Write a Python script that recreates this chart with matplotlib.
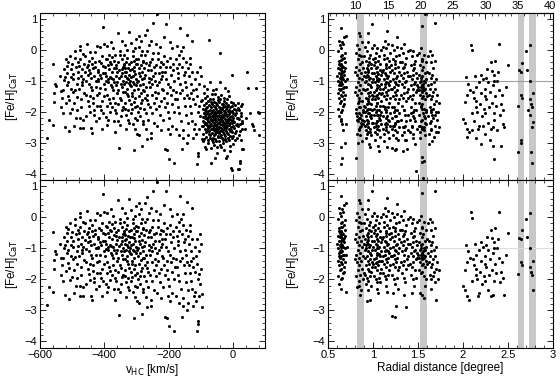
import numpy as np
import matplotlib
matplotlib.use('Agg')
import matplotlib.pyplot as plt
from matplotlib.ticker import MultipleLocator, FormatStrFormatter

plt.rcParams['font.family'] = ['Liberation Sans', 'DejaVu Sans']
plt.rcParams['font.size'] = 8
plt.rcParams['mathtext.default'] = 'regular'

# (v_HC [km/s], [Fe/H]_CaT) - broad population
vhc_halo = [
    (-577, -2.84), (-572, -2.25), (-558, -2.41), (-560, -0.47), (-555, -1.39), (-555, -1.68), (-552, -1.10),
    (-550, -1.18), (-534, -1.85), (-529, -1.30), (-522, -2.49), (-520, -1.72), (-537, -0.85), (-526, -0.62),
    (-531, -1.55), (-524, -0.98), (-528, -2.05), (-534, -1.32), (-522, -0.89),
    (-518, -0.30), (-508, -0.19), (-501, -0.46), (-515, -0.75), (-512, -1.05), (-506, -2.03), (-511, -2.62),
    (-503, -1.25), (-517, -0.51), (-505, -0.88), (-514, -1.48), (-509, -1.62), (-502, -0.62), (-516, -1.15),
    (-500, -1.92), (-513, -0.38),
    (-496, -0.78), (-492, -0.25), (-488, -0.55), (-485, -1.10), (-482, -0.92), (-498, -1.35), (-494, -1.70),
    (-489, -2.20), (-483, -0.40), (-490, -0.05), (-486, -1.52), (-481, -0.70), (-497, -0.95), (-484, -1.95),
    (-491, -1.28), (-493, -2.45),
    (-480, -0.51), (-475, 0.13), (-477, -0.00), (-465, -0.14), (-477, -2.52), (-465, -2.52), (-467, -2.25),
    (-475, -2.20), (-470, -0.62), (-472, -0.85), (-468, -1.05), (-462, -0.45), (-478, -1.25), (-473, -1.60),
    (-463, -1.38), (-466, -0.95), (-471, -1.85), (-461, -0.72), (-476, -0.30), (-469, -1.15),
    (-444, -0.08), (-444, -2.01), (-447, -1.82), (-440, -2.52), (-439, -2.68), (-455, -0.55), (-452, -0.80),
    (-458, -1.02), (-449, -0.35), (-446, -0.65), (-442, -1.20), (-457, -1.45), (-450, -1.65), (-453, 0.20),
    (-441, -0.90), (-459, -0.20), (-448, -1.10), (-443, -1.50), (-456, -2.15), (-451, -0.48), (-445, -0.75),
    (-430, -0.08), (-423, 0.13), (-431, -1.95), (-436, -0.60), (-433, -0.85), (-428, -0.40), (-425, -1.00),
    (-421, -0.70), (-438, -1.30), (-434, -1.55), (-427, -1.20), (-422, -1.80), (-437, -0.25), (-426, -2.30),
    (-429, -0.55), (-424, -1.45), (-432, -2.10), (-420, -0.95), (-435, -1.72), (-439, -0.45),
    (-412, 0.08), (-402, 0.18), (-404, 0.75), (-407, -2.54), (-418, -0.65), (-415, -0.35), (-410, -0.90),
    (-405, -0.52), (-401, -1.10), (-417, -1.40), (-413, -1.22), (-408, -1.65), (-403, -0.75), (-419, -1.00),
    (-411, -1.95), (-406, -0.20), (-414, -1.80), (-409, -0.42), (-400, -1.50), (-416, -2.20), (-404, -2.05),
    (-412, -0.80),
    (-392, 0.13), (-392, -2.41), (-396, -2.16), (-381, -2.01), (-383, -1.73), (-398, -0.55), (-395, -0.85),
    (-390, -0.30), (-387, -1.05), (-385, -0.62), (-382, -0.40), (-397, -1.25), (-393, -1.45), (-389, -0.95),
    (-386, -1.60), (-384, -0.15), (-399, -0.75), (-391, -1.80), (-388, -0.50), (-380, -1.15), (-394, -1.02),
    (-387, -2.25), (-383, -0.88), (-396, -0.28), (-378, 0.25),
    (-371, -2.30), (-366, -2.66), (-378, -0.45), (-375, -0.70), (-372, -0.95), (-369, -0.35), (-365, -0.60),
    (-362, -1.15), (-376, -1.20), (-373, -1.55), (-368, -0.15), (-364, -0.85), (-361, -1.40), (-377, -1.85),
    (-370, -1.05), (-367, -1.70), (-363, -0.48), (-379, -0.92), (-374, 0.05), (-360, -0.72), (-366, -1.95),
    (-372, -1.30), (-362, -2.05), (-369, -0.58), (-376, -0.22),
    (-358, 0.55), (-354, -3.16), (-350, -2.41), (-344, -1.93), (-357, -0.40), (-353, -0.65), (-349, -0.85),
    (-346, -0.30), (-342, -0.55), (-359, -1.05), (-356, -1.30), (-352, -1.55), (-348, -1.10), (-345, -0.75),
    (-341, -1.35), (-358, -1.75), (-351, -0.18), (-347, -2.15), (-343, -1.00), (-354, -0.92), (-340, -0.45),
    (-356, -2.30), (-349, -1.62), (-344, -0.62), (-352, -0.05), (-346, -1.20), (-342, -1.85), (-345, 0.30),
    (-324, 0.59), (-331, -2.57), (-327, -2.25), (-338, -0.50), (-335, -0.72), (-332, -0.38), (-329, -0.90),
    (-326, -0.60), (-322, -0.45), (-339, -1.10), (-336, -1.35), (-333, -1.05), (-330, -1.25), (-327, -1.50),
    (-323, -0.80), (-321, -1.15), (-337, -1.70), (-334, -1.90), (-328, -0.25), (-325, -1.95), (-320, -0.65),
    (-338, -0.15), (-332, -2.10), (-329, -0.02), (-326, -0.95), (-323, -1.62), (-335, -0.85), (-330, -1.42),
    (-322, -2.35), (-337, -0.58), (-333, -0.70), (-324, -1.08), (-335, 0.15),
    (-306, -3.24), (-303, -2.57), (-318, -0.40), (-315, -0.62), (-312, -0.85), (-309, -0.35), (-306, -0.55),
    (-303, -0.78), (-301, -0.45), (-319, -1.00), (-316, -1.18), (-313, -1.40), (-310, -1.05), (-307, -1.30),
    (-304, -1.55), (-302, -0.95), (-317, -1.75), (-314, -1.92), (-311, -0.20), (-305, -1.85), (-300, -1.15),
    (-318, -2.05), (-312, -0.05), (-308, -0.68), (-304, -2.20), (-315, -1.50), (-309, -1.68), (-302, -0.28),
    (-316, -0.88), (-310, -2.40), (-306, -1.10), (-318, 0.22), (-300, 0.35), (-305, 0.05),
    (-297, -2.70), (-291, -2.76), (-284, -3.10), (-298, -0.45), (-295, -0.30), (-292, -0.60), (-289, -0.85),
    (-286, -0.50), (-283, -0.72), (-281, -0.38), (-299, -1.05), (-296, -1.25), (-293, -1.50), (-290, -1.15),
    (-287, -1.38), (-284, -1.62), (-282, -0.95), (-298, -1.80), (-294, -2.00), (-291, 0.10), (-288, -1.88),
    (-285, -0.18), (-280, -1.30), (-297, -2.25), (-293, -0.75), (-289, -2.15), (-286, -1.72), (-283, -0.05),
    (-295, -1.00), (-281, -2.40), (-291, 0.45), (-285, 0.28),
    (-269, -2.57), (-266, -2.89), (-266, 0.65), (-278, -0.35), (-275, -0.58), (-272, 0.47), (-272, -0.80),
    (-269, -0.42), (-265, -0.65), (-262, -0.90), (-279, -1.10), (-276, -1.32), (-273, -1.55), (-270, -1.20),
    (-267, -1.45), (-264, -1.75), (-261, -1.05), (-277, -1.90), (-274, -0.15), (-271, -2.05), (-268, -0.05),
    (-263, -2.25), (-260, -0.48), (-275, -0.92), (-266, -1.62), (-278, -2.30), (-262, 0.15),
    (-256, -2.68), (-255, -2.85), (-249, 0.86), (-255, 0.30), (-258, -0.40), (-254, -0.65), (-251, -0.30),
    (-247, -0.85), (-244, -0.55), (-241, -1.00), (-257, -1.20), (-253, -1.45), (-250, -1.10), (-246, -1.70),
    (-243, -1.35), (-259, -1.85), (-252, -2.05), (-248, -0.10), (-245, -2.35), (-242, -0.75), (-256, -0.95),
    (-240, -1.55), (-240, 0.20),
    (-235, 1.15), (-238, -0.50), (-234, -0.30), (-231, -0.75), (-227, -0.55), (-223, -0.95), (-236, -1.15),
    (-232, -1.40), (-229, -1.05), (-225, -1.65), (-221, -1.25), (-239, -1.90), (-233, -0.10), (-228, -2.10),
    (-224, -0.40), (-237, -2.45), (-230, -1.80), (-222, -2.60), (-226, 0.10), (-220, -0.70),
    (-207, 0.84), (-206, -3.24), (-212, -3.20), (-218, -0.45), (-214, -0.20), (-211, -0.70), (-208, -0.95),
    (-205, -0.35), (-202, -1.10), (-217, -1.30), (-213, -1.55), (-210, -1.85), (-204, -1.40), (-201, -2.00),
    (-216, -2.25), (-209, -0.55), (-203, -2.55), (-219, -0.85), (-206, -1.70), (-215, 0.40),
    (-198, -3.51), (-183, -3.66), (-197, -0.25), (-194, -0.55), (-191, -0.80), (-188, 0.05), (-185, -0.45),
    (-182, -1.00), (-196, -1.20), (-192, -1.45), (-189, -1.75), (-186, -1.30), (-184, -2.00), (-199, -2.20),
    (-190, -2.45), (-187, -0.65), (-181, -1.60), (-195, -2.70), (-195, 0.25),
    (-165, 0.69), (-159, -3.21), (-178, -0.30), (-175, -0.60), (-172, -0.90), (-169, -0.15), (-166, -0.45),
    (-163, -1.10), (-177, -1.35), (-174, -1.60), (-170, -1.85), (-167, -2.05), (-164, -1.40), (-161, -2.30),
    (-176, -2.55), (-171, -0.75), (-162, -0.05), (-168, -2.75), (-175, 0.12),
    (-143, -3.00), (-142, 0.48), (-158, -0.55), (-155, -0.25), (-152, -0.80), (-149, -1.05), (-146, -0.40),
    (-157, -1.30), (-153, -1.55), (-150, -1.80), (-147, -2.10), (-144, -1.45), (-141, -2.35), (-156, -2.60),
    (-148, -0.70), (-154, -2.85), (-145, -1.20), (-155, 0.10),
    (-128, 0.30), (-138, -0.60), (-135, -0.85), (-132, -0.45), (-129, -1.10), (-126, -0.70), (-123, -1.30),
    (-137, -1.55), (-134, -1.80), (-131, -2.05), (-127, -2.30), (-124, -1.60), (-121, -2.55), (-139, -2.75),
    (-133, -0.25), (-125, -2.85), (-130, -1.40),
    (-113, -0.70), (-106, -1.82), (-97, -2.89), (-97, -2.46), (-109, -3.43), (-112, -3.67), (-107, -3.34),
    (-118, -0.95), (-115, -1.25), (-110, -1.50), (-104, -1.10), (-101, -2.15), (-117, -2.40), (-108, -2.00),
    (-99, -1.65), (-114, -2.70), (-103, -0.55), (-119, -1.75), (-105, -2.55), (-100, -0.85),
]

# (v_HC, [Fe/H]_CaT) - clump near v_HC ~ 0 (top-left panel only)
vhc_fg = [
    (-95, -1.62), (-94, -2.18), (-93, -2.47), (-93, -1.91), (-92, -2.73), (-91, -2.05), (-91, -1.38),
    (-90, -2.32), (-89, -2.88), (-89, -1.77), (-88, -2.21), (-88, -2.56), (-87, -1.95), (-87, -3.12),
    (-86, -2.40), (-86, -1.55), (-85, -2.66), (-85, -2.02), (-94, -2.95), (-90, -1.18), (-92, -2.28),
    (-86, -2.12),
    (-84, -2.36), (-84, -1.72), (-83, -2.58), (-83, -2.07), (-82, -1.88), (-82, -2.81), (-81, -2.24),
    (-81, -1.49), (-80, -2.63), (-80, -2.01), (-79, -2.42), (-79, -1.83), (-78, -3.02), (-78, -2.17),
    (-77, -1.64), (-77, -2.52), (-76, -2.29), (-76, -1.97), (-75, -2.71), (-75, -2.12), (-80, -1.26),
    (-83, -3.21), (-78, -2.48), (-76, -2.90),
    (-74, -2.08), (-74, -2.61), (-73, -1.79), (-73, -2.33), (-72, -2.86), (-72, -1.57), (-71, -2.19),
    (-71, -2.47), (-70, -1.93), (-70, -2.74), (-69, -2.26), (-69, -3.64), (-69, -1.68), (-68, -2.54),
    (-68, -2.03), (-67, -3.18), (-67, -2.38), (-67, -1.85), (-66, -2.92), (-66, -2.14), (-66, -1.42),
    (-65, -2.57), (-65, -2.00), (-73, 0.33), (-71, -1.05), (-70, -2.42),
    (-64, -2.31), (-64, -1.76), (-64, -2.69), (-63, -2.12), (-63, -2.84), (-62, -1.94), (-62, -2.45),
    (-62, -1.58), (-61, -2.22), (-61, -2.97), (-60, -2.06), (-60, -2.59), (-60, -1.81), (-59, -2.35),
    (-59, -3.08), (-58, -2.17), (-58, -1.67), (-58, -2.76), (-57, -2.41), (-57, -3.48), (-57, -1.99),
    (-56, -2.27), (-56, -2.63), (-56, -1.44), (-55, -2.11), (-55, -2.88), (-63, -1.31), (-59, -2.52),
    (-54, -2.19), (-54, -2.72), (-54, -1.86), (-53, -2.43), (-53, -2.04), (-52, -1.71), (-52, -2.57),
    (-52, -2.95), (-51, -2.28), (-51, -1.92), (-50, -2.66), (-50, -2.13), (-50, -3.15), (-49, -1.79),
    (-49, -2.38), (-48, -3.34), (-48, -2.49), (-48, -2.01), (-47, -1.63), (-47, -2.82), (-46, -2.24),
    (-46, -2.55), (-46, -1.97), (-45, -2.36), (-45, -1.52), (-45, -2.78), (-51, -1.27), (-49, -2.60),
    (-44, -2.15), (-44, -2.67), (-44, -1.83), (-43, -2.34), (-43, -2.93), (-42, -2.05), (-42, -2.48),
    (-42, -1.69), (-41, -2.26), (-41, -0.10), (-41, -2.81), (-40, -1.95), (-40, -2.39), (-40, -3.06),
    (-39, -2.12), (-39, -1.58), (-39, -2.61), (-38, -2.31), (-38, -1.88), (-37, -2.74), (-37, -2.20),
    (-37, -1.47), (-36, -2.53), (-36, -3.15), (-36, -2.02), (-35, -2.44), (-35, -1.76), (-39, -1.05),
    (-34, -2.27), (-34, -1.91), (-34, -2.84), (-33, -2.09), (-33, -2.58), (-32, -1.74), (-32, -2.40),
    (-32, -3.01), (-31, -2.18), (-31, -2.66), (-30, -1.86), (-30, -2.33), (-30, -2.92), (-29, -2.07),
    (-29, -1.55), (-28, -2.49), (-28, -2.15), (-28, -3.22), (-27, -1.97), (-27, -2.71), (-26, -2.36),
    (-26, -1.66), (-26, -2.55), (-25, -2.11), (-25, -1.23), (-25, -2.87),
    (-24, -2.23), (-24, -2.78), (-24, -1.81), (-23, -2.44), (-23, -2.01), (-22, -3.48), (-22, -2.62),
    (-22, -1.92), (-21, -2.29), (-21, -1.71), (-20, -2.52), (-20, -2.08), (-20, -2.95), (-19, -3.42),
    (-19, -2.37), (-19, -1.86), (-18, -2.68), (-18, -2.14), (-17, -1.59), (-17, -2.45), (-16, -2.22),
    (-16, -1.34), (-15, -2.83), (-15, -1.98),
    (-14, -2.31), (-14, -1.77), (-14, -2.72), (-13, -2.06), (-13, -2.54), (-12, -1.49), (-12, -2.24),
    (-12, -2.91), (-11, -2.41), (-11, -1.93), (-10, -2.63), (-10, -2.17), (-9, -3.11), (-9, -1.84),
    (-9, -2.35), (-8, -2.79), (-8, -3.26), (-8, -2.02), (-7, -3.80), (-7, -2.48), (-6, -1.68), (-6, -2.27),
    (-5, -2.58), (-4, -2.13), (-4, -1.82), (-4, -2.84), (-3, -3.89), (-3, -0.82), (-3, -2.37), (-2, -2.66),
    (-2, -1.97), (-1, -2.21), (-1, -3.03), (0, -2.47), (0, -1.71), (1, -2.29), (2, -2.77), (2, -2.05),
    (3, -1.90), (4, -2.52),
    (5, -2.33), (6, -2.68), (7, -2.11), (7, -1.79), (8, -2.92), (9, -2.41), (10, -2.05), (10, -2.63),
    (11, -1.95), (12, -2.38), (13, -2.84), (14, -2.19), (15, -3.83), (15, -1.72),
    (16, -2.47), (17, -1.88), (18, -3.84), (19, -2.24), (21, -3.64), (22, -3.58), (22, -2.61), (24, -2.05),
    (25, -2.90), (17, -2.20), (20, -1.95), (23, -2.38), (26, -2.15), (28, -2.55), (19, -2.75), (25, -1.82),
    (29, -2.30),
    (28, -3.20), (30, -2.35), (33, -3.21), (38, -2.55), (27, -1.75), (41, -2.20), (44, -0.71),
    (48, -1.22), (52, -2.05), (59, -2.40), (62, -2.45), (66, -2.60), (73, -1.22), (79, -2.00), (80, -2.74),
    (81, -2.05),
]

# (radial distance [deg], [Fe/H]_CaT) - stars shown in both right panels
rad_mem = [
    (0.64, 0.70), (0.62, 0.30), (0.66, 0.25), (0.68, 0.40), (0.63, 0.15), (0.65, 0.05), (0.67, 0.18),
    (0.61, -0.05), (0.69, -0.10), (0.64, -0.20), (0.66, -0.30), (0.62, -0.35), (0.68, -0.25), (0.65, -0.45),
    (0.63, -0.50), (0.67, -0.55), (0.61, -0.60), (0.69, -0.40), (0.64, -0.65), (0.66, -0.70), (0.62, -0.75),
    (0.68, -0.80), (0.65, -0.85), (0.63, -0.90), (0.67, -0.95), (0.61, -1.00), (0.69, -0.60), (0.64, -1.05),
    (0.66, -1.10), (0.62, -1.15), (0.68, -1.20), (0.65, -1.25), (0.63, -1.30), (0.67, -1.35), (0.61, -1.40),
    (0.69, -1.00), (0.64, -1.45), (0.66, -1.50), (0.62, -1.55), (0.68, -1.60), (0.65, -1.65), (0.63, -1.70),
    (0.67, -1.80), (0.61, -1.90), (0.66, -1.95), (0.64, -2.00), (0.70, -2.40), (0.62, -0.45), (0.66, -0.52),
    (0.64, -0.78), (0.68, -0.68), (0.65, -1.12), (0.63, -0.62), (0.67, -0.72), (0.65, -0.58), (0.64, -0.95),
    (0.66, -0.88), (0.63, -1.08), (0.67, -1.22), (0.65, -0.32), (0.70, 0.45), (0.69, -1.45), (0.62, -1.25),
    (0.60, -0.85), (0.71, -0.95), (0.68, -1.75), (0.62, -2.15), (0.65, -2.30), (0.70, -1.20), (0.66, -0.15),
    (0.81, -0.10), (0.82, 0.15), (0.84, 0.55), (0.86, 0.45), (0.85, 0.02), (0.83, -0.30), (0.87, -0.20),
    (0.88, 0.25), (0.81, -0.55), (0.84, -0.65), (0.86, -0.45), (0.89, -0.60), (0.82, -0.80), (0.85, -0.90),
    (0.87, -0.75), (0.83, -1.05), (0.88, -0.95), (0.81, -1.20), (0.86, -1.15), (0.84, -1.30), (0.89, -1.25),
    (0.82, -1.45), (0.87, -1.40), (0.85, -1.55), (0.83, -1.70), (0.88, -1.65), (0.81, -1.90), (0.86, -1.85),
    (0.84, -2.05), (0.89, -2.00), (0.82, -2.25), (0.87, -2.35), (0.85, -2.20), (0.80, -1.35), (0.88, -0.40),
    (0.90, -1.80), (0.90, -0.85), (0.84, -0.15), (0.86, -2.50), (0.80, -0.70),
    (0.91, 0.10), (0.93, -0.05), (0.95, 0.25), (0.97, -0.15), (0.99, 0.05), (0.92, -0.35), (0.94, -0.50),
    (0.96, -0.40), (0.98, -0.60), (0.91, -0.70), (0.93, -0.80), (0.95, -0.65), (0.97, -0.90), (0.99, -0.75),
    (0.92, -1.00), (0.94, -1.10), (0.96, -0.95), (0.98, -1.20), (0.91, -1.30), (0.93, -1.25), (0.95, -1.40),
    (0.97, -1.35), (0.99, -1.05), (0.92, -1.55), (0.94, -1.65), (0.96, -1.50), (0.98, -1.75), (0.91, -1.85),
    (0.93, -1.95), (0.95, -2.05), (0.97, -1.90), (0.99, -1.60), (0.92, -2.15), (0.94, -2.35), (0.97, -2.65),
    (0.93, -2.70), (0.96, -0.25), (0.98, -0.45), (0.90, -0.20), (0.95, -0.85), (0.93, -0.58), (0.97, -1.15),
    (0.99, -1.45), (0.91, -1.05), (0.96, -1.72), (0.94, -0.72), (1.00, -0.95), (1.00, -0.30), (0.92, -0.88),
    (0.98, -2.20), (0.99, 0.84), (0.95, 0.55),
    (1.01, 0.15), (1.03, -0.10), (1.05, 0.05), (1.07, -0.20), (1.09, 0.00), (1.02, -0.40), (1.04, -0.55),
    (1.06, -0.35), (1.08, -0.65), (1.01, -0.75), (1.03, -0.85), (1.05, -0.70), (1.07, -0.95), (1.09, -0.80),
    (1.02, -1.05), (1.04, -1.15), (1.06, -1.00), (1.08, -1.25), (1.01, -1.35), (1.03, -1.30), (1.05, -1.45),
    (1.07, -1.40), (1.09, -1.10), (1.02, -1.60), (1.04, -1.70), (1.06, -1.55), (1.08, -1.80), (1.01, -1.90),
    (1.03, -2.00), (1.05, -2.10), (1.07, -1.95), (1.09, -1.65), (1.04, -2.30), (1.06, -2.45), (1.02, -0.25),
    (1.08, -0.45), (1.05, -0.90), (1.03, -0.60), (1.07, -1.18), (1.00, -1.50), (1.10, -0.70), (1.06, -0.78),
    (1.04, -0.98), (1.09, -1.42), (1.01, -0.50), (1.08, -2.10), (1.05, -1.22), (1.03, -1.48),
    (1.11, 0.10), (1.13, 0.30), (1.15, 0.05), (1.17, 0.20), (1.19, -0.10), (1.12, -0.30), (1.14, -0.45),
    (1.16, -0.25), (1.18, -0.55), (1.11, -0.65), (1.13, -0.75), (1.15, -0.60), (1.17, -0.85), (1.19, -0.70),
    (1.12, -0.95), (1.14, -1.05), (1.16, -0.90), (1.18, -1.15), (1.11, -1.25), (1.13, -1.20), (1.15, -1.35),
    (1.17, -1.30), (1.19, -1.00), (1.12, -1.50), (1.14, -1.60), (1.16, -1.45), (1.18, -1.70), (1.11, -1.80),
    (1.13, -1.90), (1.15, -2.00), (1.17, -1.85), (1.19, -1.55), (1.14, -2.20), (1.16, -2.40), (1.12, -0.15),
    (1.18, -0.35), (1.15, -0.80), (1.13, -1.10), (1.17, -1.08), (1.20, -0.50), (1.20, -1.25), (1.10, -1.40),
    (1.16, 0.62), (1.14, -0.50),
    (1.21, 0.15), (1.23, 0.00), (1.27, 0.43), (1.27, 0.10), (1.29, -0.15), (1.22, -0.30), (1.24, -0.45),
    (1.26, -0.20), (1.28, -0.55), (1.21, -0.65), (1.23, -0.75), (1.25, -0.60), (1.27, -0.85), (1.29, -0.70),
    (1.22, -0.95), (1.24, -1.05), (1.26, -0.90), (1.28, -1.15), (1.21, -1.25), (1.23, -1.20), (1.25, -1.35),
    (1.27, -1.30), (1.29, -1.00), (1.22, -1.50), (1.24, -1.60), (1.26, -1.45), (1.28, -1.70), (1.21, -1.85),
    (1.23, -2.00), (1.25, -2.15), (1.27, -1.95), (1.29, -1.60), (1.21, -3.17), (1.24, -3.22), (1.26, -2.85),
    (1.22, -2.45), (1.28, -2.30), (1.24, -0.35), (1.26, -1.10), (1.30, -0.40),
    (1.31, 0.05), (1.33, -0.10), (1.35, 0.20), (1.37, -0.25), (1.39, -0.05), (1.32, -0.40), (1.34, -0.55),
    (1.36, -0.45), (1.38, -0.70), (1.31, -0.80), (1.33, -0.90), (1.35, -0.75), (1.37, -1.00), (1.39, -0.85),
    (1.32, -1.10), (1.34, -1.20), (1.36, -1.05), (1.38, -1.35), (1.31, -1.45), (1.33, -1.55), (1.35, -1.40),
    (1.37, -1.65), (1.39, -1.25), (1.32, -1.80), (1.34, -1.95), (1.36, -2.10), (1.35, -2.50), (1.37, -2.90),
    (1.33, -0.60), (1.39, -1.55),
    (1.41, 0.00), (1.43, -0.20), (1.45, -0.05), (1.47, -0.35), (1.49, -0.15), (1.42, -0.50), (1.44, -0.65),
    (1.46, -0.45), (1.48, -0.75), (1.41, -0.85), (1.43, -0.95), (1.45, -0.80), (1.47, -1.05), (1.49, -0.90),
    (1.42, -1.15), (1.44, -1.25), (1.46, -1.10), (1.48, -1.35), (1.41, -1.50), (1.43, -1.60), (1.45, -1.45),
    (1.47, -1.70), (1.49, -1.30), (1.42, -1.85), (1.44, -2.00), (1.46, -2.20), (1.48, -1.95), (1.43, -2.45),
    (1.46, -0.60), (1.49, -1.15),
    (1.51, -0.10), (1.53, 0.05), (1.55, -0.30), (1.57, -0.15), (1.59, -0.40), (1.52, -0.50), (1.54, -0.65),
    (1.56, -0.55), (1.58, -0.75), (1.51, -0.80), (1.53, -0.90), (1.55, -0.85), (1.57, -1.00), (1.59, -0.95),
    (1.52, -1.05), (1.54, -1.15), (1.56, -1.10), (1.58, -1.25), (1.51, -1.30), (1.53, -1.20), (1.55, -1.35),
    (1.57, -1.30), (1.59, -1.40), (1.52, -1.45), (1.54, -1.55), (1.56, -1.50), (1.58, -1.60), (1.51, -1.70),
    (1.53, -1.80), (1.55, -1.75), (1.57, -1.90), (1.59, -2.00), (1.54, -0.35), (1.55, 0.78), (1.58, -2.20),
    (1.52, -2.45), (1.55, -2.50), (1.57, -2.60), (1.53, -1.00), (1.56, -1.20), (1.58, -1.05), (1.60, -0.70),
    (1.60, -1.50), (1.50, -1.20), (1.54, -1.28),
    (1.61, -0.20), (1.63, -0.05), (1.65, -0.40), (1.67, -0.60), (1.69, -0.35), (1.62, -0.75), (1.64, -0.90),
    (1.66, -0.80), (1.68, -1.05), (1.70, -0.95), (1.61, -1.15), (1.63, -1.25), (1.65, -1.10), (1.67, -1.35),
    (1.69, -1.25), (1.62, -1.45), (1.64, -1.60), (1.66, -1.50), (1.68, -1.75), (1.70, -1.65), (1.63, -1.85),
    (1.65, -2.00), (1.67, -1.90), (1.71, -1.45), (1.72, -2.00), (1.73, -1.70), (1.70, -2.65), (1.64, -2.30),
    (1.66, -0.15), (1.69, -2.10), (1.69, 0.86),
    (2.09, 0.16), (2.10, -0.02), (2.03, -0.88), (2.06, -1.10), (2.08, -1.30), (2.02, -1.69), (2.00, -2.22),
    (2.02, -2.35), (2.05, -2.55), (2.07, -2.65), (2.17, -2.55), (2.31, -2.55), (2.33, -2.50), (2.46, -2.50),
    (2.50, -0.50), (2.35, -0.80), (2.32, -0.68), (2.27, -0.62), (2.31, -0.40), (2.12, -1.55), (2.15, -1.20),
    (2.18, -1.05), (2.20, -1.40), (2.22, -0.95), (2.24, -1.25), (2.26, -1.60), (2.28, -1.05), (2.30, -1.35),
    (2.33, -1.15), (2.36, -1.50), (2.38, -1.00), (2.40, -1.30), (2.42, -1.75), (2.14, -1.85), (2.16, -2.00),
    (2.19, -1.75), (2.21, -2.15), (2.23, -1.90), (2.25, -2.05), (2.29, -1.85), (2.34, -2.05), (2.37, -1.80),
    (2.41, -2.10), (2.44, -1.95), (2.11, -1.35), (2.13, -0.85), (2.20, -0.80), (2.26, -0.90), (2.39, -0.70),
    (2.36, -0.35), (2.04, -1.45), (2.28, -2.35), (2.18, -2.45), (2.24, -1.50), (2.32, -1.70), (2.15, -1.65),
    (2.10, -2.05), (2.48, -1.20), (2.43, -1.45), (2.34, -1.00), (2.40, 0.18),
    (2.62, -0.66), (2.64, -0.70), (2.66, -0.42), (2.70, -0.05), (2.74, 0.15), (2.71, -0.65), (2.61, -1.82),
    (2.65, -1.45), (2.66, -1.55), (2.75, -1.60), (2.76, -1.75), (2.78, -1.40), (2.78, -2.33), (2.77, -1.85),
    (2.74, -1.00),
]

# (radial distance, [Fe/H]_CaT) - stars only in the top-right panel
rad_fg = [
    (0.65, -2.22), (0.66, -2.40), (0.69, -3.02), (0.64, -3.13), (0.66, -3.48), (0.64, -3.70), (0.67, -2.60),
    (0.81, -2.05), (0.83, -2.30), (0.85, -2.55), (0.87, -2.10), (0.89, -2.40), (0.82, -2.70), (0.84, -1.85),
    (0.86, -2.20), (0.88, -2.95), (0.83, -3.00), (0.81, -3.50), (0.86, -2.75), (0.85, -1.65), (0.87, -2.45),
    (0.89, -1.95), (0.82, -2.15), (0.84, -2.60), (0.88, -2.25),
    (0.91, -2.00), (0.93, -2.25), (0.95, -2.50), (0.97, -2.15), (0.99, -2.35), (0.92, -2.60), (0.94, -1.90),
    (0.96, -2.05), (0.98, -2.75), (0.91, -2.45), (0.93, -1.75), (0.95, -2.30), (0.97, -2.55), (0.99, -1.95),
    (0.92, -2.85), (0.94, -2.65), (0.96, -3.05), (0.98, -2.10), (0.90, -2.30), (0.97, -3.15), (0.95, -1.60),
    (0.93, -2.40),
    (1.01, -2.10), (1.03, -2.35), (1.05, -2.55), (1.07, -2.20), (1.09, -2.40), (1.02, -2.65), (1.04, -1.95),
    (1.06, -2.10), (1.08, -2.80), (1.01, -2.50), (1.03, -1.80), (1.05, -2.30), (1.07, -2.60), (1.09, -2.00),
    (1.02, -2.90), (1.04, -2.70), (1.06, -3.10), (1.08, -2.25), (1.00, -2.35), (1.07, -3.25), (1.05, -1.70),
    (1.03, -2.45),
    (1.11, -2.15), (1.13, -2.40), (1.15, -2.60), (1.17, -2.25), (1.19, -2.45), (1.12, -2.70), (1.14, -1.95),
    (1.16, -2.15), (1.18, -2.85), (1.11, -2.55), (1.13, -1.85), (1.15, -2.35), (1.17, -2.65), (1.19, -2.05),
    (1.12, -2.95), (1.16, -3.15), (1.18, -2.30), (1.14, -2.50),
    (1.21, -2.20), (1.23, -2.45), (1.25, -2.60), (1.27, -2.30), (1.29, -2.50), (1.22, -2.75), (1.24, -1.95),
    (1.26, -2.15), (1.28, -2.90), (1.21, -2.55), (1.23, -1.85), (1.25, -2.35), (1.27, -2.65), (1.29, -2.05),
    (1.26, -3.20), (1.24, -2.40),
    (1.31, -2.25), (1.33, -2.50), (1.35, -2.65), (1.37, -2.30), (1.39, -2.10), (1.32, -2.75), (1.34, -1.95),
    (1.36, -2.45), (1.38, -3.20), (1.33, -3.25), (1.36, -2.90), (1.39, -2.60),
    (1.41, -2.25), (1.43, -2.50), (1.45, -2.70), (1.47, -2.30), (1.49, -2.55), (1.42, -2.05), (1.44, -2.85),
    (1.46, -1.95), (1.48, -3.90), (1.41, -2.65), (1.45, -2.15), (1.47, -3.05),
    (1.51, -2.10), (1.53, -2.30), (1.55, -2.55), (1.57, -2.15), (1.59, -2.40), (1.52, -2.65), (1.54, -1.90),
    (1.56, -2.05), (1.58, -2.75), (1.51, -2.45), (1.53, -1.85), (1.55, -2.25), (1.57, -2.50), (1.59, -1.95),
    (1.54, -3.45), (1.55, -3.62), (1.57, -3.58), (1.56, -4.15), (1.52, -2.85), (1.58, -2.35), (1.58, 1.16),
    (1.61, -2.15), (1.63, -2.35), (1.65, -2.60), (1.67, -2.20), (1.69, -2.45), (1.62, -2.70), (1.64, -1.95),
    (1.66, -2.10), (1.68, -2.80), (1.71, -2.25), (1.73, -2.50), (1.62, -3.05), (1.70, -2.00), (1.72, -2.65),
    (1.66, -2.95), (1.64, -2.55),
    (2.05, -2.80), (2.10, -2.60), (2.15, -2.85), (2.22, -2.45), (2.25, -2.70), (2.30, -2.90), (2.33, -3.10),
    (2.34, -3.52), (2.38, -2.60), (2.42, -3.10), (2.45, -2.40), (2.20, -3.05), (2.12, -2.30), (2.35, -2.25),
    (2.64, -2.90), (2.61, -3.30), (2.65, -3.00), (2.75, -2.10), (2.77, -2.50), (2.76, -3.30), (2.77, -3.65),
    (2.72, -1.95),
]

# shaded radial ranges [deg]
bands = [(0.826, 0.900), (1.522, 1.600), (2.611, 2.681), (2.737, 2.811)]
# top axis of the upper right panel (kpc) read against the degree scale
kpc_ticks = [10, 15, 20, 25, 30, 35, 40]
KPC_DEG0, KPC_DEG_PER = 0.0856, 0.0721
V_CUT = -95


def style_axis(ax, xmaj, xmin, top=True):
    ax.set_ylim(-4.2, 1.2)
    ax.yaxis.set_major_locator(MultipleLocator(1))
    ax.yaxis.set_minor_locator(MultipleLocator(0.2))
    ax.xaxis.set_major_locator(MultipleLocator(xmaj))
    ax.xaxis.set_minor_locator(MultipleLocator(xmin))
    ax.tick_params(which='both', direction='in', top=top, right=True, labelsize=8, pad=2)
    ax.tick_params(which='major', length=4, width=0.6)
    ax.tick_params(which='minor', length=2, width=0.5)
    for sp in ax.spines.values():
        sp.set_linewidth(0.8)
    ax.set_ylabel(r'[Fe/H]$_{\rm CaT}$', fontsize=8.5)


def dots(ax, pts):
    pts = np.array(pts)
    ax.plot(pts[:, 0], pts[:, 1], 'o', color='black', ms=2.2, mew=0, zorder=3)


fig = plt.figure(figsize=(5.6, 3.81), dpi=100)
ax_lt = fig.add_axes([0.0714, 0.5276, 0.4018, 0.4391])
ax_lb = fig.add_axes([0.0714, 0.0874, 0.4018, 0.4402])
ax_rt = fig.add_axes([0.5857, 0.5276, 0.4018, 0.4391])
ax_rb = fig.add_axes([0.5857, 0.0874, 0.4018, 0.4402])

# left column: velocity
dots(ax_lt, vhc_halo + vhc_fg)
dots(ax_lb, [p for p in vhc_halo + vhc_fg if p[0] < V_CUT])
for ax in (ax_lt, ax_lb):
    ax.set_xlim(-600, 100)
    style_axis(ax, 200, 40)
    ax.yaxis.set_label_coords(-0.088, 0.5)
ax_lt.tick_params(labelbottom=False)
ax_lb.set_xlabel(r'v$_{\rm HC}$ [km/s]', fontsize=8.5, labelpad=1)

# right column: radial distance
dots(ax_rt, rad_mem + rad_fg)
dots(ax_rb, rad_mem)
for ax, lc in ((ax_rt, '#a0a0a0'), (ax_rb, '#dcdcdc')):
    ax.set_xlim(0.5, 3)
    for lo, hi in bands:
        ax.axvspan(lo, hi, color='#c8c8c8', lw=0, zorder=1)
    ax.axhline(-1, color=lc, lw=0.8, zorder=2)
style_axis(ax_rt, 0.5, 0.1, top=False)
style_axis(ax_rb, 0.5, 0.1)
for ax in (ax_rt, ax_rb):
    ax.yaxis.set_label_coords(-0.12, 0.5)
ax_rb.xaxis.set_major_formatter(FormatStrFormatter('%g'))
ax_rt.tick_params(labelbottom=False)
ax_rb.set_xlabel('Radial distance [degree]', fontsize=8.5, labelpad=1)

sec = ax_rt.secondary_xaxis('top', functions=(lambda d: (d - KPC_DEG0) / KPC_DEG_PER,
                                              lambda k: KPC_DEG0 + k * KPC_DEG_PER))
sec.set_xticks(kpc_ticks)
sec.xaxis.set_minor_locator(MultipleLocator(1))
sec.tick_params(which='both', direction='in', labelsize=8, pad=1)
sec.tick_params(which='major', length=4, width=0.6)
sec.tick_params(which='minor', length=2, width=0.5)

fig.savefig('out.png', dpi=100)
